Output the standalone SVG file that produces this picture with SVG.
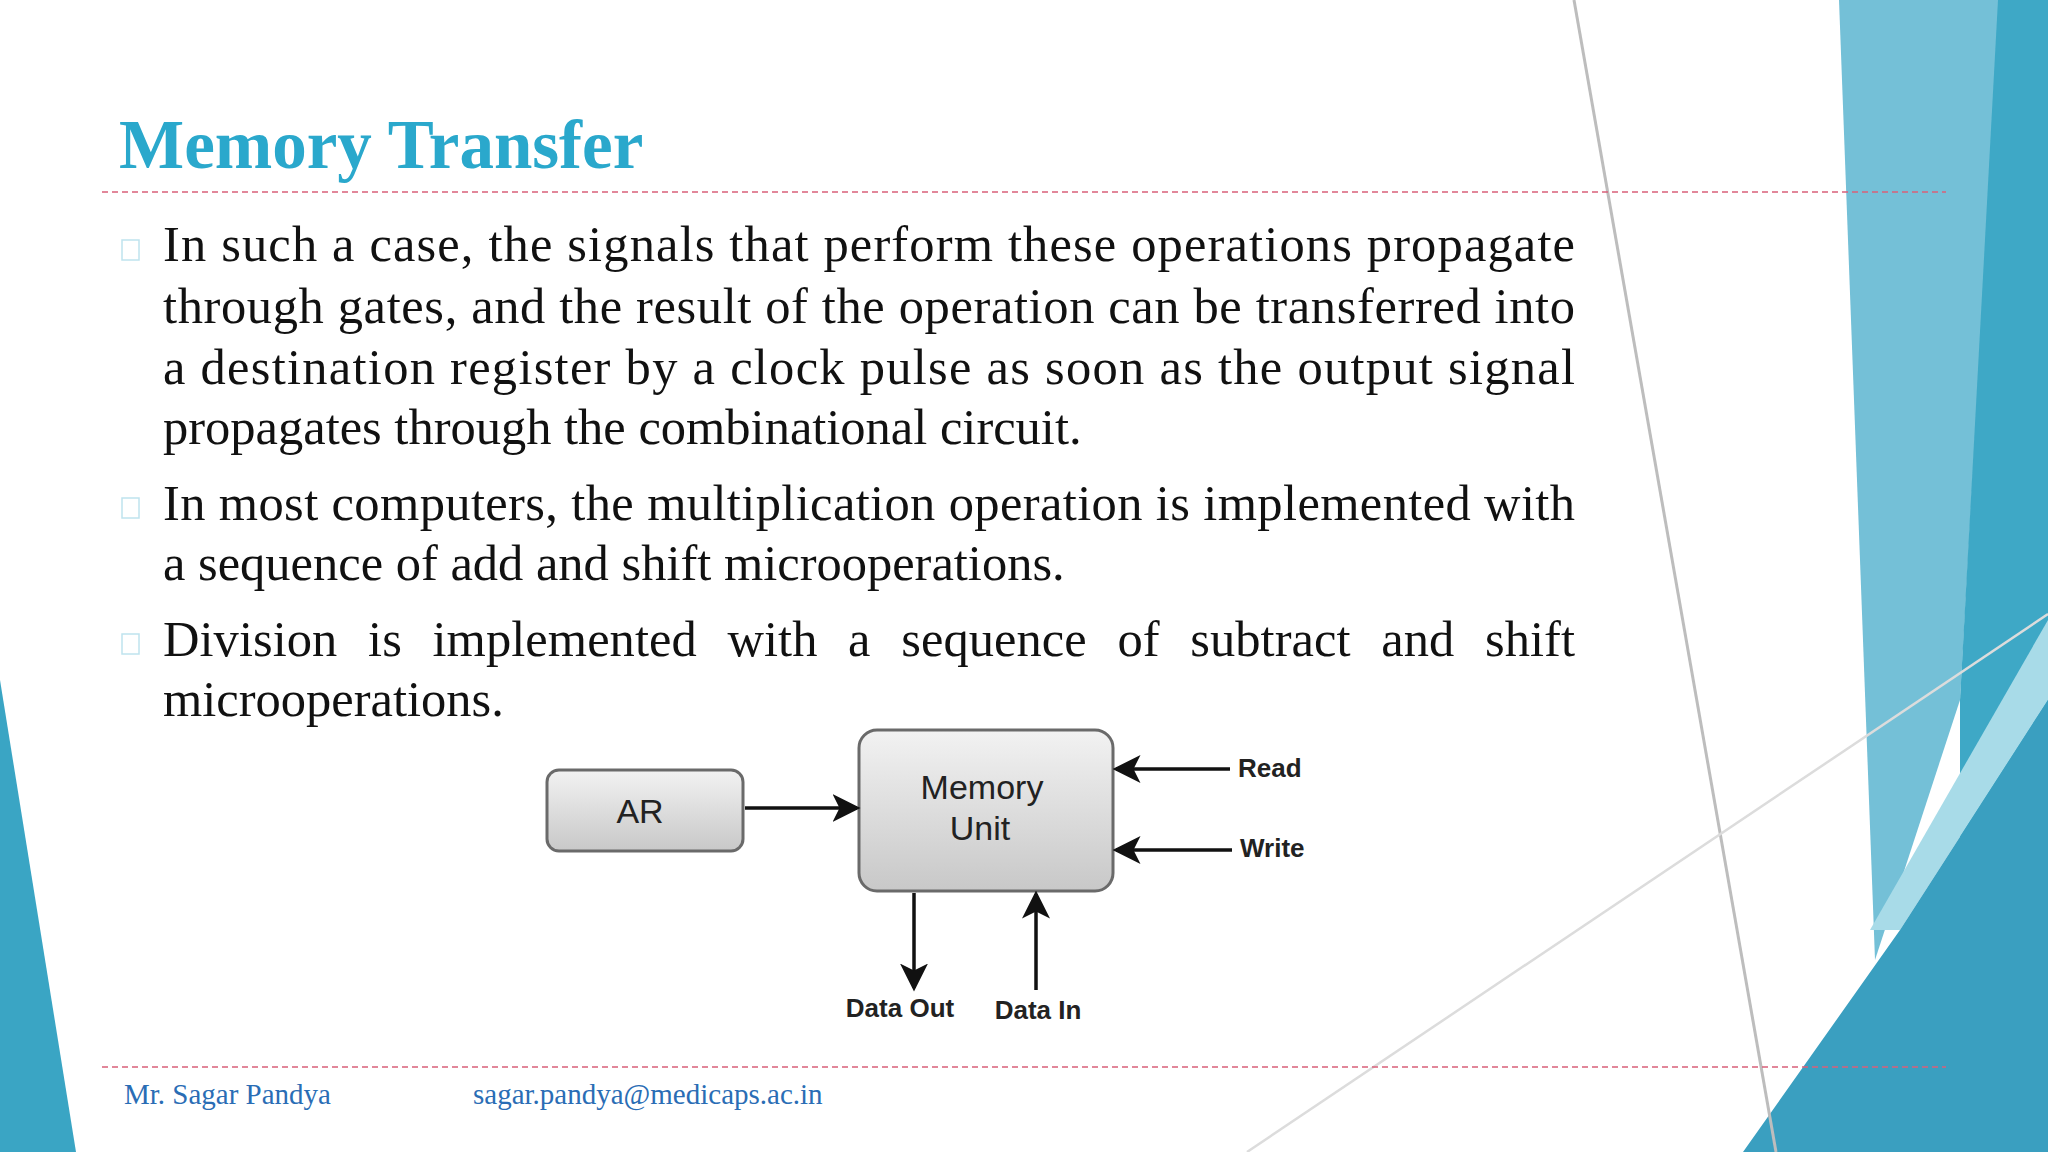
<svg xmlns="http://www.w3.org/2000/svg" width="2048" height="1152" viewBox="0 0 2048 1152">
<style>
.b{font-family:"Liberation Serif",serif;font-size:50.5px;fill:#111}
.sq{fill:none;stroke:#bfe3ee;stroke-width:1.5}
.box{fill:url(#g);stroke:#6a6a6a;stroke-width:3}
.bl{font-family:"Liberation Sans",Arial,sans-serif;font-size:34px;fill:#222}
.lb{font-family:"Liberation Sans",Arial,sans-serif;font-size:26px;font-weight:bold;fill:#222}
.c{stroke:#111;stroke-width:3.5;fill:none;marker-end:url(#ah)}
.ft{font-family:"Liberation Serif",serif;font-size:29px;fill:#2a6db5}
</style>
<defs>
<linearGradient id="g" x1="0" y1="0" x2="0" y2="1"><stop offset="0" stop-color="#f2f2f2"/><stop offset="1" stop-color="#c8c8c8"/></linearGradient>
<marker id="ah" markerWidth="8" markerHeight="8" refX="7" refY="4" orient="auto" markerUnits="strokeWidth"><path d="M0,0 L8,4 L0,8 L2,4 z" fill="#111"/></marker>
</defs>
<rect width="2048" height="1152" fill="#fff"/>
<g id="decor">
<polygon points="0,680 0,1152 76,1152" fill="#3aa5c4"/>
<polygon points="1839,0 2000,0 1960,700 1875,960" fill="#74c0d7"/>
<polygon points="1998,0 2048,0 2048,1152 1960,1152 1960,700" fill="#3ea8c6"/>
<polygon points="1870,930 2048,620 2048,700 1900,930" fill="#a8dbe8"/>
<polygon points="1743,1152 1900,930 2048,700 2048,1152" fill="#3a9fc0"/>
<line x1="1574" y1="0" x2="1776" y2="1152" stroke="#bdbdbd" stroke-width="3"/>
<line x1="1247" y1="1152" x2="2048" y2="614" stroke="#dcdcdc" stroke-width="2.5"/>
</g>
<text id="title" x="119" y="168" font-family="Liberation Serif,serif" font-size="69" font-weight="bold" fill="#2aa8cc">Memory Transfer</text>
<line x1="102" y1="192" x2="1946" y2="192" stroke="#d9607a" stroke-width="1.5" stroke-dasharray="6,4"/>
<line x1="102" y1="1067" x2="1946" y2="1067" stroke="#d9607a" stroke-width="1.5" stroke-dasharray="6,4"/>
<g id="bullets">
<rect class="sq" x="122" y="240" width="17" height="20"/>
<rect class="sq" x="122" y="498" width="17" height="20"/>
<rect class="sq" x="122" y="634" width="17" height="20"/>
<text class="b" x="163" y="261" textLength="1412" lengthAdjust="spacing">In such a case, the signals that perform these operations propagate</text>
<text class="b" x="163" y="323" textLength="1412" lengthAdjust="spacing">through gates, and the result of the operation can be transferred into</text>
<text class="b" x="163" y="384" textLength="1412" lengthAdjust="spacing">a destination register by a clock pulse as soon as the output signal</text>
<text class="b" x="163" y="444">propagates through the combinational circuit.</text>
<text class="b" x="163" y="520" textLength="1412" lengthAdjust="spacing">In most computers, the multiplication operation is implemented with</text>
<text class="b" x="163" y="580">a sequence of add and shift microoperations.</text>
<text class="b" x="163" y="656" textLength="1412" lengthAdjust="spacing" word-spacing="18">Division is implemented with a sequence of subtract and shift</text>
<text class="b" x="163" y="716">microoperations.</text>
</g>
<g id="ar"><rect class="box" x="547" y="770" width="196" height="81" rx="12"/><text class="bl" x="640" y="823" text-anchor="middle">AR</text></g>
<g id="mem"><rect class="box" x="859" y="730" width="254" height="161" rx="18"/><text class="bl" x="982" y="799" text-anchor="middle">Memory</text><text class="bl" x="980" y="840" text-anchor="middle">Unit</text></g>
<g id="connectors">
<line class="c" x1="745" y1="808" x2="857" y2="808"/>
<line class="c" x1="1230" y1="769" x2="1116" y2="769"/>
<line class="c" x1="1232" y1="850" x2="1116" y2="850"/>
<line class="c" x1="914" y1="893" x2="914" y2="988"/>
<line class="c" x1="1036" y1="990" x2="1036" y2="894"/>
</g>
<g id="labels">
<text class="lb" x="1238" y="777">Read</text>
<text class="lb" x="1240" y="857">Write</text>
<text class="lb" x="900" y="1017" text-anchor="middle">Data Out</text>
<text class="lb" x="1038" y="1019" text-anchor="middle">Data In</text>
</g>
<g id="footer">
<text class="ft" x="124" y="1104">Mr. Sagar Pandya</text>
<text class="ft" x="473" y="1104">sagar.pandya@medicaps.ac.in</text>
</g>
</svg>
